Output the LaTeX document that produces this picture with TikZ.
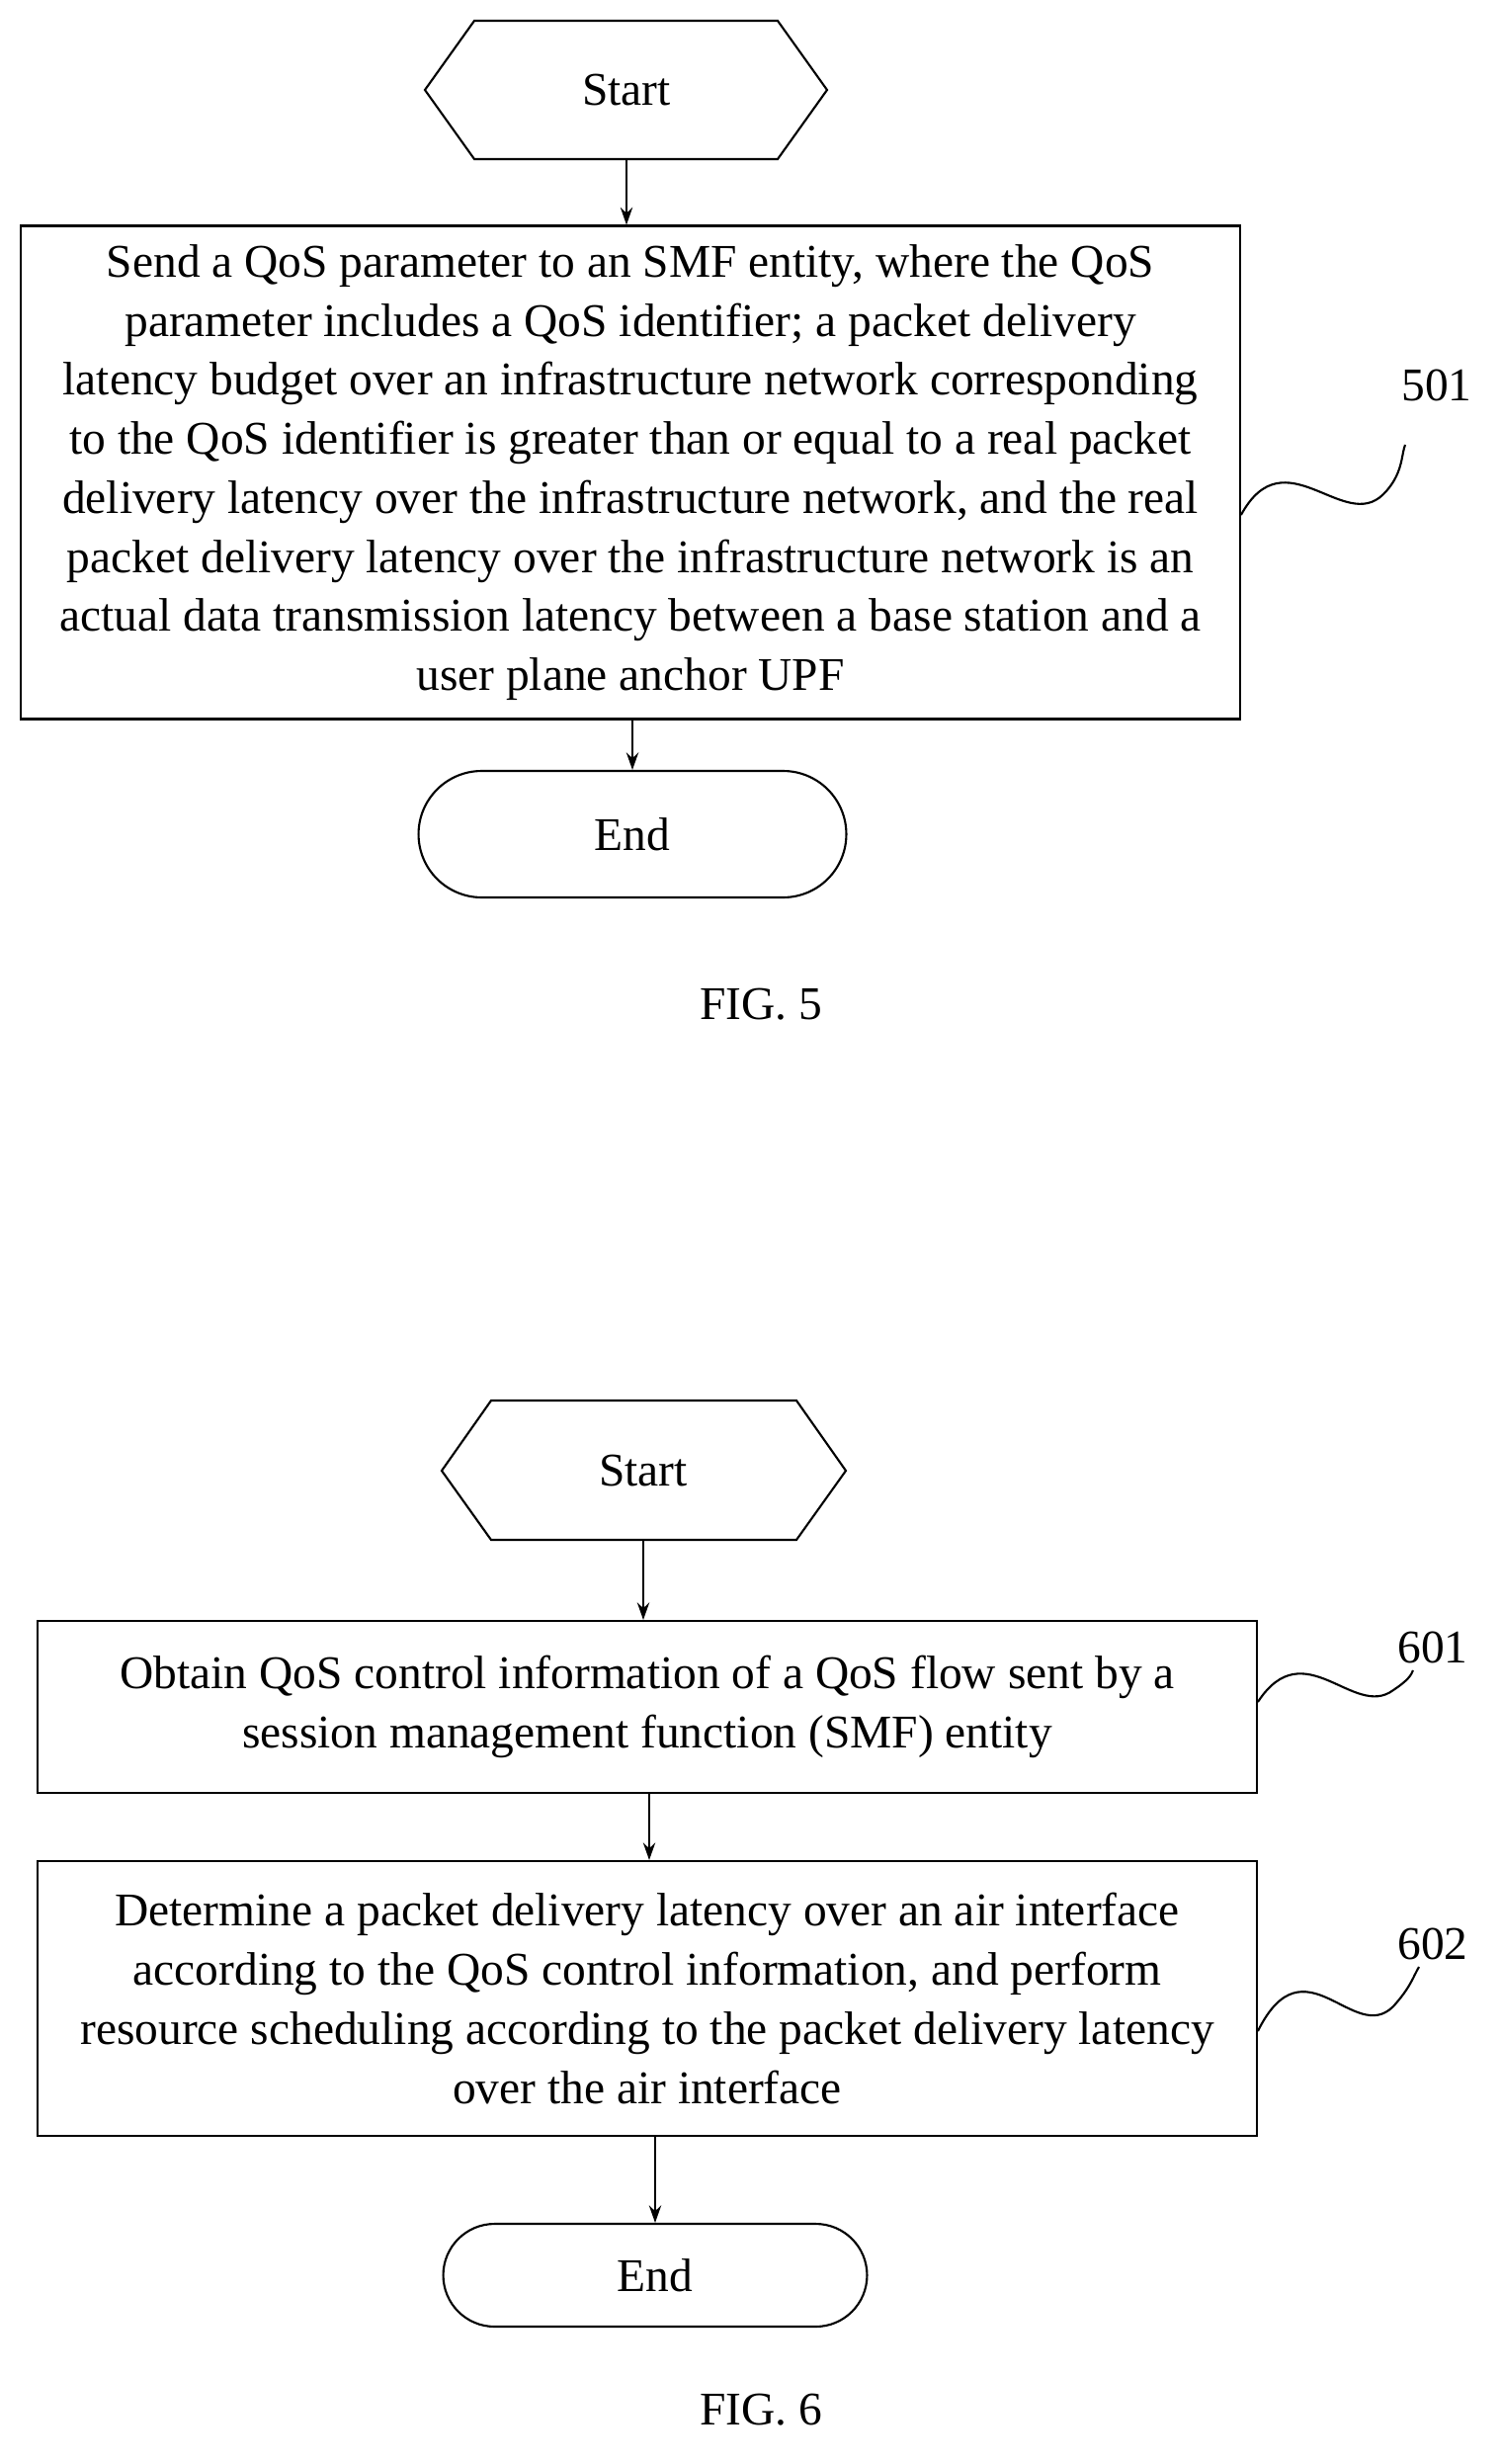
\documentclass[tikz,border=0pt]{standalone}
\usepackage{fontspec}
\setmainfont{Liberation Serif}
\usetikzlibrary{shapes.geometric,arrows.meta}
\begin{document}
\begin{tikzpicture}[x=0.02cm,y=-0.02cm,
  every node/.style={font=\fontsize{27}{34}\selectfont},
  ln/.style={line width=1.2pt},
  box/.style={draw,ln,align=center,inner sep=0pt},
  hex/.style={draw,ln,regular polygon,regular polygon sides=6,inner sep=0pt},
  arr/.style={ln,-{Stealth[length=10pt,width=7pt]}},
  wav/.style={ln}]
\useasboundingbox (0,0) rectangle (1517,2493);
% FIG 5
\draw[ln] (430,91) -- (480,21) -- (787,21) -- (837,91) -- (787,161) -- (480,161) -- cycle;
\node (s5) at (634,91) {Start};
\coordinate (s5b) at (634,161);
\node[box,minimum width=1234\pgflinewidth/1.2pt*0+24.68cm,minimum height=9.98cm] (b501) at (638,478)
 {Send a QoS parameter to an SMF entity, where the QoS\\parameter includes a QoS identifier; a packet delivery\\latency budget over an infrastructure network corresponding\\to the QoS identifier is greater than or equal to a real packet\\delivery latency over the infrastructure network, and the real\\packet delivery latency over the infrastructure network is an\\actual data transmission latency between a base station and a\\user plane anchor UPF};
\node[box,rounded corners=64\pgflinewidth/1.2pt*0+1.28cm,minimum width=8.66cm,minimum height=2.56cm] (e5) at (640,844) {End};
\draw[arr] (s5b) -- (s5b |- b501.north);
\draw[arr] (b501.south -| e5) -- (e5.north);
\node (l501) at (1454,390) {501};
\draw[wav] (b501.east |- 0,521) .. controls (1300,440) and (1360,540) .. (1400,500) .. controls (1420,480) and (1418,460) .. (1422,450);
\node (f5) at (770,1016) {FIG. 5};
% FIG 6
\draw[ln] (447,1488) -- (497,1417) -- (806,1417) -- (856,1488) -- (806,1558) -- (497,1558) -- cycle;
\node (s6) at (651,1488) {Start};
\coordinate (s6b) at (651,1558);
\node[box,minimum width=24.68cm,minimum height=3.48cm] (b601) at (655,1727)
 {Obtain QoS control information of a QoS flow sent by a\\session management function (SMF) entity};
\node[box,minimum width=24.68cm,minimum height=5.56cm] (b602) at (655,2022)
 {Determine a packet delivery latency over an air interface\\according to the QoS control information, and perform\\resource scheduling according to the packet delivery latency\\over the air interface};
\node[box,rounded corners=1.04cm,minimum width=8.58cm,minimum height=2.08cm] (e6) at (663,2302) {End};
\draw[arr] (s6b) -- (s6b |- b601.north);
\draw[arr] (b601.south -| 657,0) -- (b602.north -| 657,0);
\draw[arr] (b602.south -| e6) -- (e6.north);
\node (l601) at (1450,1667) {601};
\draw[wav] (b601.east |- 0,1722) .. controls (1320,1650) and (1370,1740) .. (1410,1710) .. controls (1425,1700) and (1428,1695) .. (1430,1690);
\node (l602) at (1450,1967) {602};
\draw[wav] (b602.east |- 0,2055) .. controls (1320,1960) and (1370,2070) .. (1410,2030) .. controls (1428,2010) and (1430,2000) .. (1436,1990);
\node (f6) at (770,2438) {FIG. 6};
\end{tikzpicture}
\end{document}
